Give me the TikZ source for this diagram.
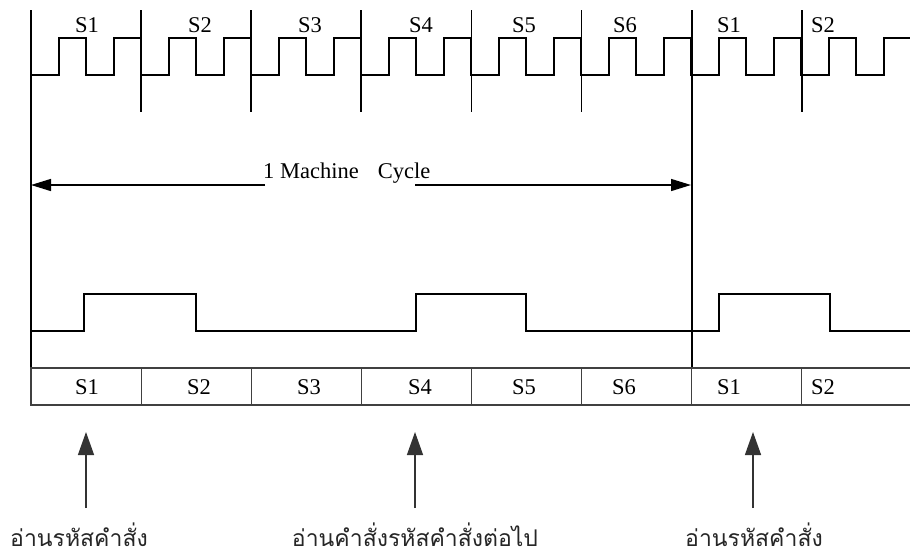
\documentclass[tikz,border=0pt]{standalone}
\usepackage{fontspec}
\setmainfont{Liberation Serif}
\newfontfamily\thaifont[Script=Thai]{Loma}
\usetikzlibrary{arrows.meta}

\begin{document}
\begin{tikzpicture}[x=1pt,y=-1pt,
  wave/.style={line width=2pt, black, line join=miter},
  marker/.style={line width=1.8pt, black},
  cell/.style={draw=black!75, line width=1.2pt},
  statelbl/.style={font=\fontsize{22.5}{22.5}\selectfont, inner sep=0pt},
  note/.style={font=\thaifont\fontsize{23}{26}\selectfont, text=black!85, inner sep=0pt},
  span/.style={line width=1.4pt, -{Triangle[length=20pt,width=12pt]}},
  point/.style={line width=1.4pt, black!80, -{Triangle[length=23pt,width=16pt]}}
]
\useasboundingbox (0,0) rectangle (910,558);

% state boundaries
\foreach \i in {0,...,7} {
  \coordinate (b\i) at ({31+110.1*\i},0);
}

% clock waveform: four half-periods per state
\draw[wave] (31,75)
  \foreach \i in {0,...,6} {
    -- ++(27.5,0) -- ++(0,-37) -- ++(27.5,0) -- ++(0,37)
    -- ++(27.5,0) -- ++(0,-37) -- ++(27.5,0) -- ++(0,37)
  }
  -- ++(27.5,0) -- ++(0,-37) -- ++(27.5,0) -- ++(0,37)
  -- ++(27.5,0) -- ++(0,-37) -- (910,38);

% boundary markers
\foreach \i in {1,2,3,4,5,7} {
  \draw[marker] (b\i |- 0,10) -- (b\i |- 0,112);
}
\draw[marker] (b0 |- 0,10) -- (b0 |- 0,368);
\draw[marker] (b6 |- 0,10) -- (b6 |- 0,368);

% state labels above the clock
\foreach \x/\t [count=\k] in {87/S1,200/S2,310/S3,421/S4,524/S5,625/S6,729/S1,823/S2} {
  \node[statelbl, anchor=base] (top\k) at (\x,32) {\t};
}

% machine cycle span
\node[statelbl, anchor=base west] (mc) at (263,178) {1 Machine\hspace{0.85em}Cycle};
\coordinate (mcL) at (31,185);
\coordinate (mcR) at (691,185);
\coordinate (mcA) at (265,185);
\coordinate (mcB) at (415,185);
\draw[span] (mcA) -- (mcL);
\draw[span] (mcB) -- (mcR);

% lower control signal
\draw[wave] (31,331) -- (84,331) -- (84,294) -- (196,294) -- (196,331)
  -- (416,331) -- (416,294) -- (526,294) -- (526,331)
  -- (719,331) -- (719,294) -- (830,294) -- (830,331) -- (910,331);

% state table
\draw[cell] (910,368) -- (31,368) -- (31,405) -- (910,405);
\foreach \i in {1,...,7} {
  \draw[cell] (b\i |- 0,368) -- (b\i |- 0,405);
}
\foreach \x/\t [count=\k] in {87/S1,199/S2,309/S3,420/S4,524/S5,624/S6,729/S1,823/S2} {
  \node[statelbl, anchor=base] (row\k) at (\x,394) {\t};
}

% annotations with pointers
\node[note, anchor=base] (n1) at (79,546) {อ่านรหัสคำสั่ง};
\node[note, anchor=base] (n2) at (415,546) {อ่านคำสั่งรหัสคำสั่งต่อไป};
\node[note, anchor=base] (n3) at (754,546) {อ่านรหัสคำสั่ง};
\coordinate (p1) at (86,432);
\coordinate (p2) at (415,432);
\coordinate (p3) at (753,432);
\draw[point] (86,508) -- (p1);
\draw[point] (415,508) -- (p2);
\draw[point] (753,508) -- (p3);
\end{tikzpicture}
\end{document}
